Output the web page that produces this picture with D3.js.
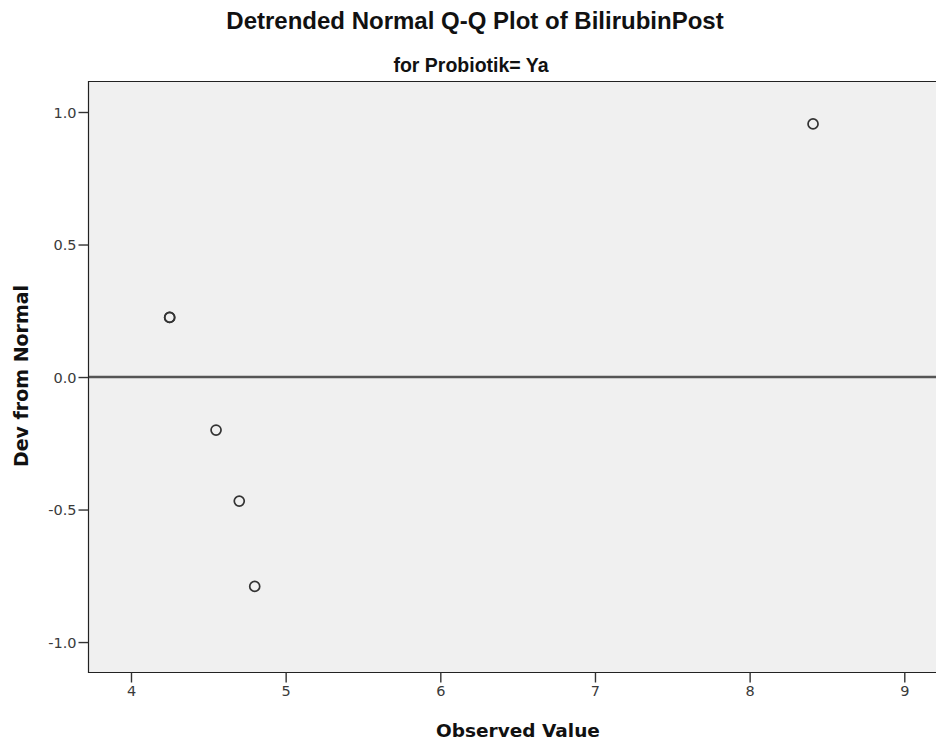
<!DOCTYPE html>
<html>
<head>
<meta charset="utf-8">
<script src="https://cdn.jsdelivr.net/npm/d3@7"></script>
<style>
  html, body { margin: 0; padding: 0; background: #fff; }
  svg { display: block; }
</style>
</head>
<body>
<script>
// ---- data ----
const observedValues = [4.25, 4.25, 4.55, 4.70, 4.80, 8.41];
const devFromNormal  = [0.225, 0.225, -0.20, -0.468, -0.79, 0.955];
const xTickValues = [4, 5, 6, 7, 8, 9];
const yTickValues = [-1.0, -0.5, 0.0, 0.5, 1.0];
const titleText = "Detrended Normal Q-Q Plot of BilirubinPost";
const subtitleText = "for Probiotik= Ya";
const xLabel = "Observed Value";
const yLabel = "Dev from Normal";

const W = 936, H = 746;
const plot = { left: 88, top: 81, right: 936, bottom: 672 };

const svg = d3.select("body").append("svg").attr("width", W).attr("height", H);

const x = d3.scaleLinear().domain([3.722, 9.205]).range([plot.left, plot.right]);
const y = d3.scaleLinear().domain([-1.113, 1.117]).range([plot.bottom, plot.top]);

// background
svg.append("rect")
  .attr("x", plot.left).attr("y", plot.top)
  .attr("width", plot.right - plot.left).attr("height", plot.bottom - plot.top)
  .attr("fill", "#f0f0f0");

// zero reference line
svg.append("line")
  .attr("x1", plot.left).attr("x2", plot.right)
  .attr("y1", y(0)).attr("y2", y(0))
  .attr("stroke", "#555").attr("stroke-width", 2.5);

// frame
svg.append("path")
  .attr("d", `M${plot.right + 1},${plot.top + 0.5}H${plot.left + 0.5}V${plot.bottom + 0.5}H${plot.right + 1}`)
  .attr("fill", "none").attr("stroke", "#222").attr("stroke-width", 1.2);

// axes
const fmtY = d => d3.format(".1f")(d).replace("\u2212", "-");
const yAxis = d3.axisLeft(y).tickValues(yTickValues).tickFormat(fmtY).tickSize(10).tickPadding(2);
const xAxis = d3.axisBottom(x).tickValues(xTickValues).tickFormat(d3.format("d")).tickSize(10).tickPadding(3);

const gy = svg.append("g").attr("transform", `translate(${plot.left + 0.5},0)`).call(yAxis);
const gx = svg.append("g").attr("transform", `translate(0,${plot.bottom + 0.5})`).call(xAxis);
[gx, gy].forEach(g => {
  g.select(".domain").remove();
  g.selectAll(".tick line").attr("stroke", "#333").attr("stroke-width", 1.4);
  g.selectAll(".tick text")
    .attr("fill", "#3a3a3a")
    .style("font-family", "'DejaVu Sans', sans-serif")
    .style("font-size", "14.5px");
});
gy.selectAll(".tick text").attr("dy", "0.36em");

// points
svg.append("g").selectAll("circle")
  .data(observedValues.map((v, i) => [v, devFromNormal[i]]))
  .join("circle")
  .attr("cx", d => x(d[0]))
  .attr("cy", d => y(d[1]))
  .attr("r", 5)
  .attr("fill", "none")
  .attr("stroke", "#333")
  .attr("stroke-width", 1.7);

// titles
svg.append("text")
  .attr("x", 475).attr("y", 29)
  .attr("text-anchor", "middle")
  .style("font-family", "'Liberation Sans', Arial, sans-serif")
  .style("font-weight", "bold").style("font-size", "24px")
  .attr("fill", "#111")
  .text(titleText);

svg.append("text")
  .attr("x", 471).attr("y", 72)
  .attr("text-anchor", "middle")
  .style("font-family", "'Liberation Sans', Arial, sans-serif")
  .style("font-weight", "bold").style("font-size", "19.5px")
  .attr("fill", "#111")
  .text(subtitleText);

svg.append("text")
  .attr("x", 518).attr("y", 737)
  .attr("text-anchor", "middle")
  .style("font-family", "'DejaVu Sans', sans-serif")
  .style("font-weight", "bold").style("font-size", "18.5px")
  .attr("fill", "#111")
  .text(xLabel);

svg.append("text")
  .attr("transform", `translate(28,376) rotate(-90)`)
  .attr("text-anchor", "middle")
  .style("font-family", "'DejaVu Sans', sans-serif")
  .style("font-weight", "bold").style("font-size", "19px")
  .attr("fill", "#111")
  .text(yLabel);
</script>
</body>
</html>
